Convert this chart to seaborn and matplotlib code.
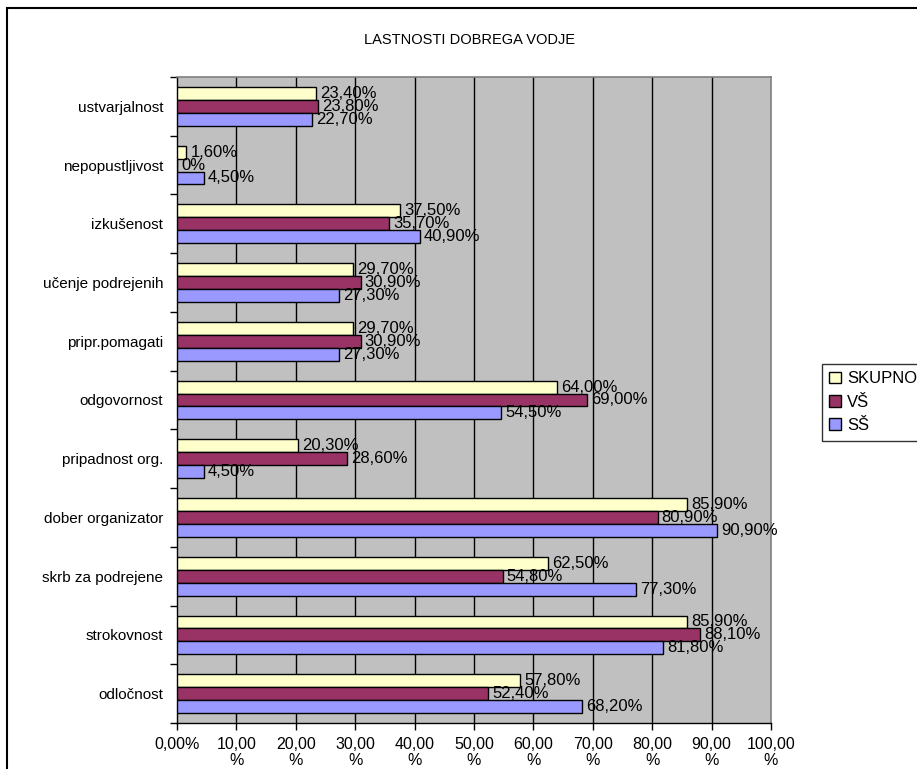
import matplotlib
matplotlib.use("Agg")
import matplotlib.pyplot as plt
from matplotlib.patches import Rectangle
from matplotlib.ticker import FixedLocator
import pandas as pd
import seaborn as sns

# Leader qualities, share of respondents (%) per group
categories = [
    "ustvarjalnost", "nepopustljivost", "izkušenost", "učenje podrejenih",
    "pripr.pomagati", "odgovornost", "pripadnost org.", "dober organizator",
    "skrb za podrejene", "strokovnost", "odločnost",
]
skupno = [23.4, 1.6, 37.5, 29.7, 29.7, 64.0, 20.3, 85.9, 62.5, 85.9, 57.8]
vs = [23.8, 0.0, 35.7, 30.9, 30.9, 69.0, 28.6, 80.9, 54.8, 88.1, 52.4]
ss = [22.7, 4.5, 40.9, 27.3, 27.3, 54.5, 4.5, 90.9, 77.3, 81.8, 68.2]
series_names = ["SKUPNO", "VŠ", "SŠ"]
series_colors = ["#FFFFCC", "#993366", "#9999FF"]
x_ticks = [0, 10, 20, 30, 40, 50, 60, 70, 80, 90, 100]
x_tick_labels = ["0,00%"] + [f"{t},00\n%" for t in x_ticks[1:]]
title = "LASTNOSTI DOBREGA VODJE"

rows = []
for name, vals in zip(series_names, [skupno, vs, ss]):
    for cat, v in zip(categories, vals):
        rows.append({"kategorija": cat, "skupina": name, "delez": v})
df = pd.DataFrame(rows)

plt.rcParams["font.family"] = ["Liberation Sans", "DejaVu Sans"]
FS_CAT = 11
FS_VAL = 12
FS_TICK = 11.5
FS_LEG = 12

fig = plt.figure(figsize=(9.17, 7.69), dpi=100)
ax = fig.add_axes([0.1930, 0.0598, 0.8408 - 0.1930, 0.8999 - 0.0598])

sns.barplot(
    data=df, x="delez", y="kategorija", hue="skupina",
    order=categories, hue_order=series_names,
    palette=series_colors, orient="h", width=0.66,
    edgecolor="black", linewidth=1.0, saturation=1, ax=ax, zorder=3,
)

ax.set_facecolor("#C0C0C0")
ax.set_xlim(0, 100)
ax.set_ylim(len(categories) - 0.5, -0.5)
ax.set_xlabel("")
ax.set_ylabel("")

# vertical grid lines
for t in x_ticks[1:-1]:
    ax.axvline(t, color="black", lw=1.0, zorder=1)

for side in ["top", "right"]:
    ax.spines[side].set_color("#808080")
    ax.spines[side].set_linewidth(1.2)
for side in ["left", "bottom"]:
    ax.spines[side].set_color("black")
    ax.spines[side].set_linewidth(1.0)

ax.set_xticks(x_ticks)
ax.set_xticklabels(x_tick_labels, fontsize=FS_TICK, linespacing=1.05, va="top")
ax.tick_params(axis="x", direction="out", length=5, width=1, pad=5, colors="black")

ax.set_yticks(range(len(categories)))
ax.set_yticklabels(categories, fontsize=FS_CAT)
ax.tick_params(axis="y", which="major", length=0, pad=10)
ax.yaxis.set_minor_locator(FixedLocator([i - 0.5 for i in range(len(categories) + 1)]))
ax.tick_params(axis="y", which="minor", direction="out", length=5, width=1, color="black")

# value labels at bar ends
def fmt(v):
    if v == 0:
        return "0%"
    return f"{v:.2f}%".replace(".", ",")

for container, vals in zip(ax.containers, [skupno, vs, ss]):
    for bar, v in zip(container, vals):
        yc = bar.get_y() + bar.get_height() / 2
        ax.annotate(fmt(v), xy=(v, yc), xytext=(3, 0), textcoords="offset points",
                    ha="left", va="center", fontsize=FS_VAL, color="black", zorder=5)

handles, labels = ax.get_legend_handles_labels()
ax.legend_.remove()
leg = fig.legend(handles, labels, loc="upper left", bbox_to_anchor=(0.8964, 0.5267),
                 fontsize=FS_LEG, frameon=True, fancybox=False, edgecolor="black",
                 handlelength=0.7, handleheight=0.7, handletextpad=0.35,
                 labelspacing=0.5, borderpad=0.45, borderaxespad=0)
leg.get_frame().set_linewidth(1.0)

fig.text(0.5125, 0.948, title, ha="center", va="center", fontsize=10.5)

# outer chart frame
fig.patches.append(Rectangle((7 / 917, -0.02), 1.05, 1 - 8 / 769 + 0.02,
                             transform=fig.transFigure, fill=False,
                             edgecolor="black", lw=1.5, zorder=10))

fig.savefig("out.png", dpi=100)
